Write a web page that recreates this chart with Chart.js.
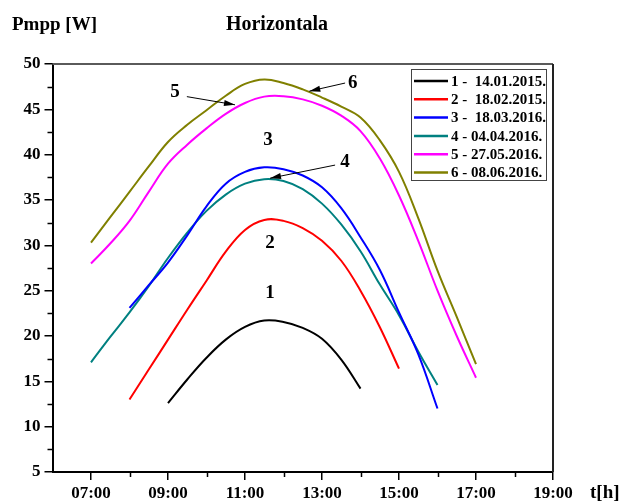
<!DOCTYPE html>
<html>
<head>
<meta charset="utf-8">
<title>Horizontala</title>
<script src="https://cdn.jsdelivr.net/npm/chart.js@4.4.0/dist/chart.umd.min.js"></script>
<style>
    html, body { margin: 0; padding: 0; background: #fff; }
    #grafik { display: block; }
</style>
</head>
<body>
<canvas id="grafik" width="623" height="502"></canvas>
<script>
// Vrijeme mjerenja (sati) - zajednicko za sve serije
const sati = [7, 7.5, 8, 8.5, 9, 9.5, 10, 10.5, 11, 11.5, 12, 12.5, 13, 13.5, 14, 14.5, 15, 15.5, 16, 16.5, 17];

// Pmpp [W] po danima (null = nema mjerenja)
const dan1 = [null, null, null, null, 12.6, 15.2, 17.6, 19.6, 21.0, 21.7, 21.55, 20.9, 19.7, 17.4, 14.2, null, null, null, null, null, null];
const dan2 = [null, null, 13.0, 16.3, 19.6, 22.9, 26.1, 29.3, 31.7, 32.8, 32.7, 31.9, 30.5, 28.3, 25.0, 21.0, 16.4, null, null, null, null];
const dan3 = [null, null, 23.1, 25.6, 28.1, 31.1, 34.3, 36.8, 38.1, 38.6, 38.4, 37.7, 36.4, 34.1, 30.9, 27.3, 22.6, 18.0, 12.0, null, null];
const dan4 = [17.1, 19.9, 22.6, 25.5, 28.6, 31.4, 33.8, 35.6, 36.8, 37.3, 37.1, 36.2, 34.6, 32.3, 29.35, 25.7, 22.3, 18.3, 14.6, null, null];
const dan5 = [28.0, 30.2, 32.7, 35.9, 39.0, 41.1, 42.9, 44.5, 45.7, 46.4, 46.45, 46.1, 45.4, 44.3, 42.6, 39.6, 35.5, 30.5, 25.0, 20.0, 15.4];
const dan6 = [30.3, 33.1, 35.9, 38.7, 41.4, 43.3, 44.9, 46.5, 47.8, 48.3, 47.9, 47.2, 46.3, 45.3, 44.1, 41.6, 38.1, 33.0, 27.2, 22.1, 16.9];

const oznake = ["1 -  14.01.2015.", "2 -  18.02.2015.", "3 -  18.03.2016.", "4 - 04.04.2016.", "5 - 27.05.2016.", "6 - 08.06.2016."];
const boje = ["#000000", "#ff0000", "#0000ff", "#008080", "#ff00ff", "#808000"];

// Podjele na osama
const glavniSati = [7, 9, 11, 13, 15, 17, 19];
const sporedniSati = [8, 10, 12, 14, 16, 18];
const sporedneVrijednosti = [7.5, 12.5, 17.5, 22.5, 27.5, 32.5, 37.5, 42.5, 47.5];

const FONT = '"Liberation Serif", "Times New Roman", serif';

// Brojevi krivih i strelice (u koordinatama grafika)
const natpisi = [
    { tekst: "1", x: 11.65, y: 24.7 },
    { tekst: "2", x: 11.65, y: 30.3 },
    { tekst: "3", x: 11.6, y: 41.6 },
    { tekst: "4", x: 13.6, y: 39.2, od: [13.34, 38.85], do: [11.65, 37.4] },
    { tekst: "5", x: 9.18, y: 46.9, od: [9.49, 46.4], do: [10.74, 45.5] },
    { tekst: "6", x: 13.8, y: 47.9, od: [13.6, 47.9], do: [12.67, 47.0] }
];

function tacke(vrijednosti) {
    return sati.map((h, i) => ({ x: h, y: vrijednosti[i] })).filter(p => p.y !== null);
}

function strelica(ctx, x1, y1, x2, y2) {
    const ugao = Math.atan2(y2 - y1, x2 - x1);
    ctx.beginPath();
    ctx.moveTo(x1, y1);
    ctx.lineTo(x2, y2);
    ctx.stroke();
    ctx.beginPath();
    ctx.moveTo(x2, y2);
    ctx.lineTo(x2 - 11 * Math.cos(ugao) + 3 * Math.sin(ugao), y2 - 11 * Math.sin(ugao) - 3 * Math.cos(ugao));
    ctx.lineTo(x2 - 11 * Math.cos(ugao) - 3 * Math.sin(ugao), y2 - 11 * Math.sin(ugao) + 3 * Math.cos(ugao));
    ctx.closePath();
    ctx.fill();
}

// Sve sto Chart.js ne crta sam: okvir, sporedne podjele, naslovi, legenda, natpisi
const dodaci = {
    id: "dodaci",
    afterDraw(chart) {
        const ctx = chart.ctx;
        const ca = chart.chartArea;
        const xs = chart.scales.x;
        const ys = chart.scales.y;
        ctx.save();

        // okvir gore i desno
        ctx.lineWidth = 2;
        ctx.strokeStyle = "#5a5a5a";
        ctx.beginPath(); ctx.moveTo(ca.left, ca.top); ctx.lineTo(ca.right, ca.top); ctx.stroke();
        ctx.strokeStyle = "#222";
        ctx.beginPath(); ctx.moveTo(ca.right, ca.top); ctx.lineTo(ca.right, ca.bottom); ctx.stroke();

        // sporedne podjele
        ctx.strokeStyle = "#000";
        ctx.lineWidth = 1.5;
        sporedniSati.forEach(h => {
            const px = Math.round(xs.getPixelForValue(h)) + 0.5;
            ctx.beginPath(); ctx.moveTo(px, ca.bottom); ctx.lineTo(px, ca.bottom + 5); ctx.stroke();
        });
        sporedneVrijednosti.forEach(v => {
            const py = Math.round(ys.getPixelForValue(v)) + 0.5;
            ctx.beginPath(); ctx.moveTo(ca.left - 5, py); ctx.lineTo(ca.left, py); ctx.stroke();
        });

        // naslovi
        ctx.fillStyle = "#000";
        ctx.font = "bold 19px " + FONT;
        ctx.textBaseline = "alphabetic";
        ctx.textAlign = "left";
        ctx.fillText("Pmpp [W]", 12, 30);
        ctx.fillText("t[h]", 590, 498);
        ctx.font = "bold 20px " + FONT;
        ctx.textAlign = "center";
        ctx.fillText("Horizontala", 277, 30);

        // brojevi krivih i strelice
        ctx.font = "bold 19px " + FONT;
        ctx.textBaseline = "middle";
        ctx.lineWidth = 1;
        natpisi.forEach(n => {
            ctx.fillText(n.tekst, xs.getPixelForValue(n.x), ys.getPixelForValue(n.y));
            if (n.od) {
                strelica(ctx,
                    xs.getPixelForValue(n.od[0]), ys.getPixelForValue(n.od[1]),
                    xs.getPixelForValue(n.do[0]), ys.getPixelForValue(n.do[1]));
            }
        });

        // legenda
        const lx = 411.5, ly = 69.5, lw = 135, lh = 111;
        ctx.fillStyle = "#fff";
        ctx.fillRect(lx, ly, lw, lh);
        ctx.strokeStyle = "#444";
        ctx.lineWidth = 1;
        ctx.strokeRect(lx, ly, lw, lh);
        ctx.font = "bold 15px " + FONT;
        ctx.textAlign = "left";
        oznake.forEach((tekst, i) => {
            const yy = 81 + i * 18.3;
            ctx.strokeStyle = boje[i];
            ctx.lineWidth = 2.5;
            ctx.beginPath(); ctx.moveTo(414, yy); ctx.lineTo(448, yy); ctx.stroke();
            ctx.fillStyle = "#000";
            ctx.fillText(tekst, 451, yy + 1);
        });

        ctx.restore();
    }
};

const skupovi = [dan1, dan2, dan3, dan4, dan5, dan6].map((d, i) => ({
    label: oznake[i],
    data: tacke(d),
    borderColor: boje[i],
    backgroundColor: boje[i],
    borderWidth: 2,
    pointRadius: 0,
    fill: false,
    tension: 0.4
}));

new Chart(document.getElementById("grafik"), {
    type: "line",
    data: { datasets: skupovi },
    options: {
        responsive: false,
        animation: false,
        devicePixelRatio: 1,
        layout: { padding: { top: 64, right: 70, left: 0, bottom: 0 } },
        plugins: {
            legend: { display: false },
            title: { display: false },
            tooltip: { enabled: false }
        },
        scales: {
            x: {
                type: "linear",
                min: 6,
                max: 19,
                afterBuildTicks: s => { s.ticks = glavniSati.map(v => ({ value: v })); },
                afterFit: s => { s.height = 30; },
                border: { display: true, color: "#000", width: 2 },
                grid: { drawOnChartArea: false, drawTicks: true, tickLength: 8, color: "#000", lineWidth: 1.5 },
                ticks: {
                    padding: 3,
                    maxRotation: 0,
                    color: "#000",
                    font: { family: FONT, size: 17, weight: "bold" },
                    callback: v => String(v).padStart(2, "0") + ":00"
                }
            },
            y: {
                min: 5,
                max: 50,
                afterFit: s => { s.width = 52.5; },
                border: { display: true, color: "#000", width: 2 },
                grid: { drawOnChartArea: false, drawTicks: true, tickLength: 8, color: "#000", lineWidth: 1.5 },
                ticks: {
                    stepSize: 5,
                    padding: 4,
                    color: "#000",
                    font: { family: FONT, size: 17, weight: "bold" }
                }
            }
        }
    },
    plugins: [dodaci]
});
</script>
</body>
</html>
